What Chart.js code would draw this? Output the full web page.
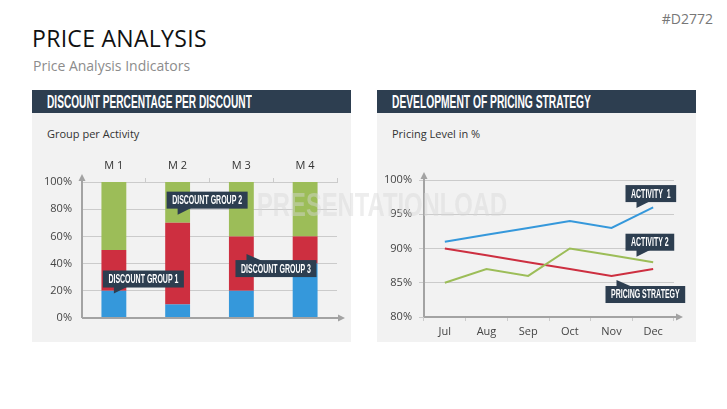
<!DOCTYPE html>
<html>
<head>
<meta charset="utf-8">
<script src="https://cdn.jsdelivr.net/npm/chart.js@4.4.1/dist/chart.umd.min.js"></script>
<style>
  html, body { margin: 0; padding: 0; background: #fff; }
  #page { position: relative; width: 727px; height: 409px; overflow: hidden; font-family: "Open Sans", sans-serif; }
  .code { position: absolute; right: 14px; top: 9px; font-size: 14px; color: #777; }
  h1 { position: absolute; left: 32px; top: 22px; margin: 0; font-weight: normal; font-size: 23px; color: #111; letter-spacing: 0.3px; }
  .sub { position: absolute; left: 33px; top: 56px; font-size: 14px; color: #8c8c8c; }
  .panel { position: absolute; top: 90px; width: 319px; height: 252px; background: #f2f2f2; }
  .panel .head { height: 23px; background: #2d3e50; color: #fff; font-family: "Liberation Sans", sans-serif; font-weight: bold; font-size: 18px; line-height: 24px; padding-left: 15px; white-space: nowrap; overflow: hidden; }
  .panel .head span { display: inline-block; transform-origin: 0 50%; }
  .panel .cap { position: absolute; left: 15px; top: 36px; font-size: 11px; color: #333; }
  .panel .box { position: absolute; left: 0; top: 23px; width: 319px; height: 229px; }
  .watermark { position: absolute; left: 257px; top: 186px; font-family: "Liberation Sans", sans-serif; font-weight: bold; font-size: 33px; color: rgba(215,215,215,0.45); white-space: nowrap; transform-origin: 0 50%; pointer-events: none; }
</style>
</head>
<body>
<div id="page">
  <div class="code">#D2772</div>
  <h1>PRICE ANALYSIS</h1>
  <div class="sub">Price Analysis Indicators</div>

  <div class="panel" style="left:32px">
    <div class="head"><span data-w="205">DISCOUNT PERCENTAGE PER DISCOUNT</span></div>
    <div class="cap">Group per Activity</div>
    <div class="box"><canvas id="chart-discount"></canvas></div>
  </div>

  <div class="panel" style="left:377px">
    <div class="head"><span data-w="199">DEVELOPMENT OF PRICING STRATEGY</span></div>
    <div class="cap">Pricing Level in %</div>
    <div class="box"><canvas id="chart-pricing"></canvas></div>
  </div>

  <div class="watermark" data-w="250">PRESENTATIONLOAD</div>
</div>

<script>
// datos del grafico de barras (porcentaje por grupo de descuento)
const months = ['M 1', 'M 2', 'M 3', 'M 4'];
const discountGroup1 = [20, 10, 20, 40];
const discountGroup2 = [30, 60, 40, 20];
const discountGroup3 = [50, 30, 40, 40];

// datos del grafico de lineas (nivel de precios en %)
const periods = ['Jul', 'Aug', 'Sep', 'Oct', 'Nov', 'Dec'];
const activity1 = [91, 92, 93, 94, 93, 96];
const activity2 = [85, 87, 86, 90, 89, 88];
const pricingStrategy = [90, 89, 88, 87, 86, 87];

const colBlue = '#3598db';
const colRed = '#cd2f40';
const colGreen = '#9cbd58';
const colNavy = '#2d3e50';
const colAxis = '#a3a3a3';
const colGrid = '#cbcbcb';
const tickFont = { family: 'Open Sans', size: 11 };
const calloutScale = 0.56; // texto condensado de los globos

// comprime los titulos al ancho del original (fuente condensada)
function ajustarTitulos() {
    document.querySelectorAll('[data-w]').forEach(el => {
        const s = Number(el.dataset.w) / el.offsetWidth;
        el.style.transform = 'scaleX(' + s + ')';
    });
}

// flechas de los ejes
function axisArrows(extra) {
    return {
        id: 'axisArrows',
        afterDatasetsDraw(chart) {
            const { ctx, chartArea: a } = chart;
            ctx.save();
            ctx.strokeStyle = colAxis;
            ctx.fillStyle = colAxis;
            ctx.lineWidth = 2;
            ctx.beginPath();
            ctx.moveTo(a.left, a.bottom);
            ctx.lineTo(a.left, a.top - 3);
            ctx.moveTo(a.left, a.bottom);
            ctx.lineTo(a.right + extra - 3, a.bottom);
            ctx.stroke();
            ctx.beginPath();
            ctx.moveTo(a.left, a.top - 8);
            ctx.lineTo(a.left - 3.5, a.top - 1);
            ctx.lineTo(a.left + 3.5, a.top - 1);
            ctx.closePath();
            ctx.fill();
            ctx.beginPath();
            ctx.moveTo(a.right + extra + 4, a.bottom);
            ctx.lineTo(a.right + extra - 3, a.bottom - 3.5);
            ctx.lineTo(a.right + extra - 3, a.bottom + 3.5);
            ctx.closePath();
            ctx.fill();
            ctx.restore();
        }
    };
}

// etiquetas tipo globo, ancladas a valores de las escalas
function callouts(list) {
    return {
        id: 'callouts',
        afterDraw(chart) {
            const ctx = chart.ctx;
            const xs = chart.scales.x, ys = chart.scales.y;
            ctx.save();
            ctx.font = 'bold 12.5px "Liberation Sans", sans-serif';
            list.forEach(c => {
                const tx = xs.getPixelForValue(c.xi);
                const ty = ys.getPixelForValue(c.yv);
                const tw = ctx.measureText(c.text).width * calloutScale;
                const w = tw + 11;
                const h = 17;
                const left = tx - 11;
                const top = c.tail === 'down' ? ty - 6 - h : ty + 6;
                ctx.fillStyle = colNavy;
                ctx.fillRect(left, top, w, h);
                ctx.beginPath();
                if (c.tail === 'down') {
                    ctx.moveTo(tx, top + h - 1);
                    ctx.lineTo(tx + 14, top + h - 1);
                    ctx.lineTo(tx, ty);
                } else {
                    ctx.moveTo(tx, top + 1);
                    ctx.lineTo(tx + 16, top + 1);
                    ctx.lineTo(tx, ty);
                }
                ctx.closePath();
                ctx.fill();
                ctx.save();
                ctx.translate(left + w / 2, top + h / 2 + 0.5);
                ctx.scale(calloutScale, 1);
                ctx.fillStyle = '#fff';
                ctx.textAlign = 'center';
                ctx.textBaseline = 'middle';
                ctx.fillText(c.text, 0, 0);
                ctx.restore();
            });
            ctx.restore();
        }
    };
}

function crearGraficoDescuentos() {
    const ctx = document.getElementById('chart-discount').getContext('2d');
    new Chart(ctx, {
        type: 'bar',
        data: {
            labels: months,
            datasets: [
                { label: 'Discount Group 1', data: discountGroup1, backgroundColor: colBlue },
                { label: 'Discount Group 2', data: discountGroup2, backgroundColor: colRed },
                { label: 'Discount Group 3', data: discountGroup3, backgroundColor: colGreen }
            ]
        },
        options: {
            responsive: true,
            maintainAspectRatio: false,
            animation: false,
            layout: { padding: { left: 0, right: 14, top: 0, bottom: 24 } },
            datasets: { bar: { categoryPercentage: 1, barPercentage: 0.39 } },
            plugins: { legend: { display: false }, tooltip: { enabled: false } },
            scales: {
                x: {
                    stacked: true,
                    position: 'top',
                    afterFit: s => { s.height = 69; },
                    grid: { offset: true, drawOnChartArea: false, tickLength: 4, color: colGrid },
                    border: { display: true, color: colGrid },
                    ticks: { color: '#333', font: tickFont, padding: 6 }
                },
                y: {
                    stacked: true,
                    min: 0, max: 100,
                    afterFit: s => { s.width = 50; },
                    grid: { color: colGrid, drawTicks: false },
                    border: { display: false },
                    ticks: { stepSize: 20, color: '#444', font: tickFont, padding: 10, callback: v => v + '%' }
                }
            }
        },
        plugins: [
            axisArrows(4),
            callouts([
                { text: 'DISCOUNT GROUP 1', xi: 0, yv: 18, tail: 'down' },
                { text: 'DISCOUNT GROUP 2', xi: 1, yv: 76, tail: 'down' },
                { text: 'DISCOUNT GROUP 3', xi: 2.08, yv: 47, tail: 'up' }
            ])
        ]
    });
}

function crearGraficoPrecios() {
    const ctx = document.getElementById('chart-pricing').getContext('2d');
    const linea = (label, data, color) => ({
        label, data, borderColor: color, backgroundColor: color,
        borderWidth: 2, pointRadius: 0, tension: 0, fill: false
    });
    new Chart(ctx, {
        type: 'line',
        data: {
            labels: periods,
            datasets: [
                linea('Activity 1', activity1, colBlue),
                linea('Activity 2', activity2, colGreen),
                linea('Pricing Strategy', pricingStrategy, colRed)
            ]
        },
        options: {
            responsive: true,
            maintainAspectRatio: false,
            animation: false,
            layout: { padding: { left: 0, right: 22, top: 67, bottom: 0 } },
            plugins: { legend: { display: false }, tooltip: { enabled: false } },
            scales: {
                x: {
                    offset: true,
                    afterFit: s => { s.height = 25; },
                    grid: { offset: true, drawOnChartArea: false, tickLength: 4, color: colGrid },
                    border: { display: false },
                    ticks: { color: '#444', font: tickFont, padding: 4 }
                },
                y: {
                    min: 80, max: 100,
                    afterFit: s => { s.width = 47; },
                    grid: { color: colGrid, tickLength: 5 },
                    border: { display: false },
                    ticks: { stepSize: 5, color: '#444', font: tickFont, padding: 7, callback: v => v + '%' }
                }
            }
        },
        plugins: [
            axisArrows(5),
            callouts([
                { text: 'ACTIVITY  1', xi: 4.6, yv: 95.9, tail: 'down' },
                { text: 'ACTIVITY 2', xi: 4.6, yv: 88.8, tail: 'down' },
                { text: 'PRICING STRATEGY', xi: 4.12, yv: 85.4, tail: 'up' }
            ])
        ]
    });
}

window.onload = function () {
    ajustarTitulos();
    crearGraficoDescuentos();
    crearGraficoPrecios();
};
</script>
</body>
</html>
